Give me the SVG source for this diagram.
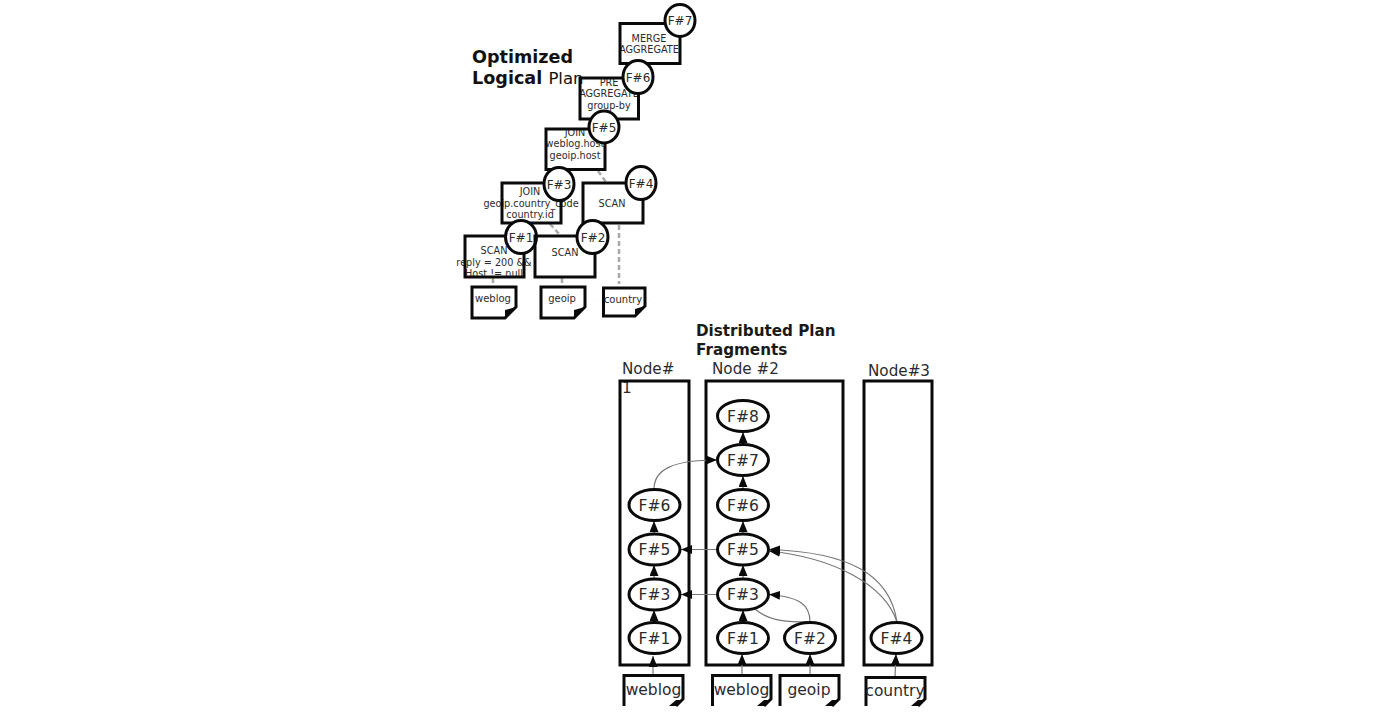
<svg xmlns="http://www.w3.org/2000/svg" width="1392" height="716" viewBox="0 0 1392 716">
  <style>
    text { font-family: "DejaVu Sans", "Liberation Sans", sans-serif; fill: #2b2b2b; text-anchor: middle; }
    .title { font-size: 17.6px; font-weight: bold; fill: #111; text-anchor: start; }
    .sub { font-size: 15.2px; font-weight: bold; fill: #1a1a1a; text-anchor: start; }
    .op { font-size: 9.7px; }
    .tag { font-size: 12px; }
    .frag { font-size: 15.5px; }
    .res { font-size: 10px; }
    .host { font-size: 15.2px; text-anchor: start; }
    .src { font-size: 15.5px; }
    .box { fill: none; stroke: #0a0a0a; stroke-width: 3; }
    .disc { fill: #fff; stroke: #0a0a0a; stroke-width: 3; }
    .sheet { fill: #fff; stroke: #0a0a0a; stroke-width: 3; stroke-linejoin: miter; }
    .fold { fill: #0a0a0a; stroke: none; }
    .lineage { fill: none; stroke: #aaa; stroke-width: 2.5; stroke-dasharray: 5 3; }
    .flow { fill: none; stroke: #777; stroke-width: 1.2; marker-end: url(#tip); }
  </style>
  <defs>
    <marker id="tip" markerUnits="userSpaceOnUse" markerWidth="12" markerHeight="10" refX="11" refY="4.500" orient="auto">
      <path d="M0 0L11 4.500L0 9Z" fill="#0a0a0a"/>
    </marker>
  </defs>
  <rect width="1392" height="716" fill="#fff"/>

  <text class="title" x="472" y="63">Optimized</text>
  <text class="title" x="472" y="84">Logical <tspan font-weight="normal" font-size="16.500">Plan</tspan></text>

  <g id="logical-connectors">
    <path class="lineage" d="M598 171L606 182"/>
    <path class="lineage" d="M550 224L561 236"/>
    <path class="lineage" d="M619 225V284"/>
    <path class="lineage" d="M493 278V287"/>
    <path class="lineage" d="M562 278V287"/>
  </g>

  <g id="op-merge">
    <text class="op" x="649" y="42">MERGE</text>
    <text class="op" x="649" y="53">AGGREGATE</text>
    <rect class="box" x="620" y="23.500" width="60" height="40"/>
    <ellipse class="disc" cx="680" cy="20.500" rx="15" ry="16"/>
    <text class="tag" x="680" y="25">F#7</text>
  </g>
  <g id="op-pre-aggregate">
    <text class="op" x="609" y="86">PRE</text>
    <text class="op" x="609" y="97">AGGREGATE</text>
    <text class="op" x="609" y="109">group-by</text>
    <rect class="box" x="580" y="78" width="58.500" height="41"/>
    <ellipse class="disc" cx="638" cy="77" rx="15" ry="16.500"/>
    <text class="tag" x="638" y="81.500">F#6</text>
  </g>
  <g id="op-join-host">
    <text class="op" x="575" y="136">JOIN</text>
    <text class="op" x="575" y="147">weblog.host</text>
    <text class="op" x="575" y="159">geoip.host</text>
    <rect class="box" x="546" y="129" width="59" height="40.500"/>
    <ellipse class="disc" cx="604" cy="127" rx="15" ry="16"/>
    <text class="tag" x="604" y="131.500">F#5</text>
  </g>
  <g id="op-scan-country">
    <text class="op" x="612" y="207">SCAN</text>
    <rect class="box" x="583" y="183" width="60" height="40"/>
    <ellipse class="disc" cx="641" cy="183" rx="15" ry="16.500"/>
    <text class="tag" x="641" y="187.500">F#4</text>
  </g>
  <g id="op-join-country">
    <text class="op" x="530" y="195">JOIN</text>
    <text class="op" x="531" y="207">geoip.country_code</text>
    <text class="op" x="530" y="218">country.id</text>
    <rect class="box" x="502" y="183" width="59" height="40"/>
    <ellipse class="disc" cx="559" cy="184" rx="15" ry="16.500"/>
    <text class="tag" x="559" y="188.500">F#3</text>
  </g>
  <g id="op-scan-weblog">
    <text class="op" x="494" y="254">SCAN</text>
    <text class="op" x="494" y="266">reply = 200 &amp;&amp;</text>
    <text class="op" x="494" y="277">Host != null</text>
    <rect class="box" x="465" y="236" width="59" height="41"/>
    <ellipse class="disc" cx="521" cy="237" rx="15.500" ry="16.500"/>
    <text class="tag" x="521" y="241.500">F#1</text>
  </g>
  <g id="op-scan-geoip">
    <text class="op" x="565" y="256">SCAN</text>
    <rect class="box" x="535" y="236" width="60" height="41"/>
    <ellipse class="disc" cx="592.500" cy="237" rx="15.500" ry="16.500"/>
    <text class="tag" x="593" y="241.500">F#2</text>
  </g>
  <g id="table-weblog">
    <path class="sheet" d="M472 287H516V307L505 318H472Z"/>
    <path class="fold" d="M505 318L516 307L505 310Z"/>
    <text class="res" x="493" y="302">weblog</text>
  </g>
  <g id="table-geoip">
    <path class="sheet" d="M541 287H585V307L574 318H541Z"/>
    <path class="fold" d="M574 318L585 307L574 310Z"/>
    <text class="res" x="562" y="302">geoip</text>
  </g>
  <g id="table-country">
    <path class="sheet" d="M603.500 288H645V306L635 316H603.500Z"/>
    <path class="fold" d="M635 316L645 306L635 309Z"/>
    <text class="res" x="623" y="303">country</text>
  </g>

  <text class="sub" x="696" y="336">Distributed Plan</text>
  <text class="sub" x="696" y="355">Fragments</text>

  <g id="node-1">
    <text class="host" x="622" y="374">Node#</text>
    <text class="host" x="622" y="393">1</text>
    <rect class="box" x="620" y="381" width="69" height="284"/>
  </g>
  <g id="node-2">
    <text class="host" x="712" y="374">Node #2</text>
    <rect class="box" x="706" y="381" width="137" height="284"/>
  </g>
  <g id="node-3">
    <text class="host" x="868" y="376">Node#3</text>
    <rect class="box" x="864" y="381" width="68" height="284"/>
  </g>

  <g id="plan-connectors">
    <path class="flow" d="M654 489C654 470 672 460 717 460"/>
    <path class="flow" d="M717 549.500H681"/>
    <path class="flow" d="M717 594.500H681"/>
    <path class="flow" d="M897 622C890 575 850 552 769 549.500"/>
    <path class="flow" d="M897 622C885 585 835 558 769 551"/>
    <path class="flow" d="M810 622C810 605 800 597 769 594.500"/>
    <path class="flow" style="marker-end:none" d="M755 609C770 622 790 622 810 622"/>
    <path class="flow" d="M654 534V521"/>
    <path class="flow" d="M654 579V565"/>
    <path class="flow" d="M654 623V610"/>
    <path class="flow" d="M653 675V656"/>
    <path class="flow" d="M743 444V432"/>
    <path class="flow" d="M743 489V476"/>
    <path class="flow" d="M743 534V521"/>
    <path class="flow" d="M743 579V565"/>
    <path class="flow" d="M743 623V610"/>
    <path class="flow" d="M742 675V654"/>
    <path class="flow" d="M810 675V654"/>
    <path class="flow" d="M895 677L896 654"/>
  </g>

  <g id="n1-f6"><ellipse class="disc" cx="654.500" cy="505" rx="25.500" ry="15.500"/><text class="frag" x="654.500" y="510.500">F#6</text></g>
  <g id="n1-f5"><ellipse class="disc" cx="654.500" cy="549.500" rx="25.500" ry="15.500"/><text class="frag" x="654.500" y="555">F#5</text></g>
  <g id="n1-f3"><ellipse class="disc" cx="654.500" cy="594.500" rx="25.500" ry="15.500"/><text class="frag" x="654.500" y="600">F#3</text></g>
  <g id="n1-f1"><ellipse class="disc" cx="654.500" cy="638" rx="25.500" ry="15.500"/><text class="frag" x="654.500" y="643.500">F#1</text></g>
  <g id="n2-f8"><ellipse class="disc" cx="743" cy="416" rx="25.500" ry="15.500"/><text class="frag" x="743" y="421.500">F#8</text></g>
  <g id="n2-f7"><ellipse class="disc" cx="743" cy="460" rx="25.500" ry="15.500"/><text class="frag" x="743" y="465.500">F#7</text></g>
  <g id="n2-f6"><ellipse class="disc" cx="743" cy="505" rx="25.500" ry="15.500"/><text class="frag" x="743" y="510.500">F#6</text></g>
  <g id="n2-f5"><ellipse class="disc" cx="743" cy="549.500" rx="25.500" ry="15.500"/><text class="frag" x="743" y="555">F#5</text></g>
  <g id="n2-f3"><ellipse class="disc" cx="743" cy="594.500" rx="25.500" ry="15.500"/><text class="frag" x="743" y="600">F#3</text></g>
  <g id="n2-f1"><ellipse class="disc" cx="743" cy="638" rx="25.500" ry="15.500"/><text class="frag" x="743" y="643.500">F#1</text></g>
  <g id="n2-f2"><ellipse class="disc" cx="810" cy="638" rx="25.500" ry="15.500"/><text class="frag" x="810" y="643.500">F#2</text></g>
  <g id="n3-f4"><ellipse class="disc" cx="896.500" cy="638" rx="25.500" ry="15.500"/><text class="frag" x="896.500" y="643.500">F#4</text></g>

  <g id="src-weblog-1">
    <path class="sheet" d="M624 706V675.500H683V699L676 706"/>
    <path class="fold" d="M669 706L676 700H683L676 706Z"/>
    <text class="src" x="653.500" y="694.500">weblog</text>
  </g>
  <g id="src-weblog-2">
    <path class="sheet" d="M712.500 706V675.500H771V699L764 706"/>
    <path class="fold" d="M757 706L764 700H771L764 706Z"/>
    <text class="src" x="741.500" y="694.500">weblog</text>
  </g>
  <g id="src-geoip">
    <path class="sheet" d="M780 706V675.500H839V699L832 706"/>
    <path class="fold" d="M825 706L832 700H839L832 706Z"/>
    <text class="src" x="809" y="694.500">geoip</text>
  </g>
  <g id="src-country">
    <path class="sheet" d="M866 706V677.500H925V699L918 706"/>
    <path class="fold" d="M911 706L918 700H925L918 706Z"/>
    <text class="src" x="895" y="696">country</text>
  </g>
</svg>
